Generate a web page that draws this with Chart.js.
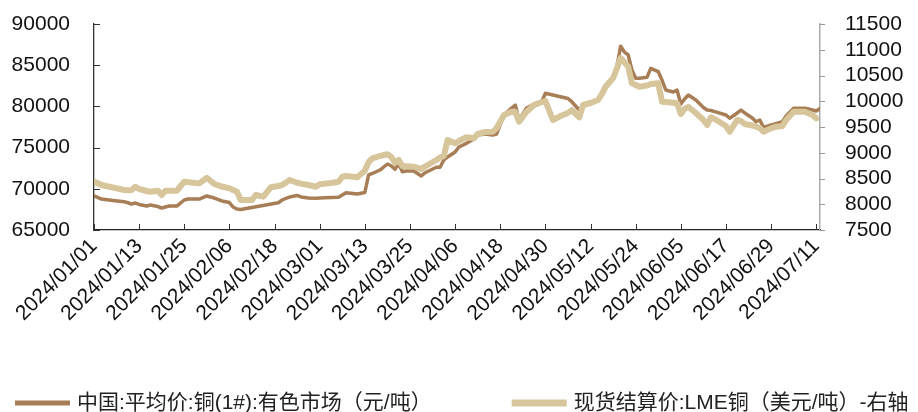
<!DOCTYPE html>
<html><head><meta charset="utf-8">
<script src="https://cdn.jsdelivr.net/npm/chart.js@4.4.1/dist/chart.umd.min.js"></script>
<style>html,body{margin:0;padding:0;background:#fff;overflow:hidden}</style>
</head><body>
<canvas id="c" width="918" height="412" style="width:918px;height:412px;display:block"></canvas>
<script>
const dates = [
'2024-01-01','2024-01-03','2024-01-06','2024-01-09','2024-01-10','2024-01-11','2024-01-12','2024-01-13','2024-01-15','2024-01-16','2024-01-18','2024-01-19','2024-01-20','2024-01-21','2024-01-23','2024-01-25','2024-01-26','2024-01-28','2024-01-29','2024-01-31',
'2024-02-02','2024-02-04','2024-02-06','2024-02-07','2024-02-08','2024-02-09','2024-02-12','2024-02-13','2024-02-15','2024-02-17','2024-02-19','2024-02-20','2024-02-21','2024-02-22','2024-02-24','2024-02-25','2024-02-27','2024-02-29',
'2024-03-01','2024-03-04','2024-03-06','2024-03-07','2024-03-08','2024-03-11','2024-03-13','2024-03-14','2024-03-15','2024-03-17','2024-03-19','2024-03-20','2024-03-21','2024-03-22','2024-03-23','2024-03-24','2024-03-26','2024-03-28','2024-03-29',
'2024-04-01','2024-04-02','2024-04-03','2024-04-04','2024-04-06','2024-04-07','2024-04-09','2024-04-11','2024-04-12','2024-04-14','2024-04-16','2024-04-17','2024-04-19','2024-04-21','2024-04-22','2024-04-23','2024-04-25','2024-04-27','2024-04-29','2024-04-30',
'2024-05-02','2024-05-04','2024-05-06','2024-05-07','2024-05-09','2024-05-10','2024-05-12','2024-05-14','2024-05-15','2024-05-16','2024-05-18','2024-05-19','2024-05-20','2024-05-21','2024-05-22','2024-05-23','2024-05-24','2024-05-25','2024-05-27','2024-05-28','2024-05-30','2024-05-31',
'2024-06-01','2024-06-03','2024-06-04','2024-06-05','2024-06-06','2024-06-07','2024-06-09','2024-06-11','2024-06-12','2024-06-13','2024-06-14','2024-06-17','2024-06-18','2024-06-20','2024-06-21','2024-06-22','2024-06-24','2024-06-25','2024-06-26','2024-06-27','2024-06-29','2024-06-30',
'2024-07-02','2024-07-03','2024-07-05','2024-07-06','2024-07-08','2024-07-10','2024-07-11','2024-07-12'
];
const chinaCopper = [
69130,68760,68580,68430,68310,68150,68270,68100,67910,68030,67850,67670,67790,67910,67910,68640,68760,68760,68760,69130,
68880,68520,68330,67790,67550,67490,null,null,null,null,68310,68640,68846,69000,69190,69010,68880,68846,
68880,68940,68970,69250,69530,69370,69550,71680,71860,72280,73010,72800,72370,73010,72080,72160,72160,71550,71950,
72610,72610,73500,73860,74470,75070,75520,76040,76530,76650,76530,76650,78960,79800,80170,78350,79800,80290,80570,81590,
81380,81180,80960,80570,79560,80170,80410,80770,81380,82190,83440,84820,87300,86600,86240,84420,83410,83410,83530,84620,84210,83200,
81990,81740,81990,80290,80900,81380,80770,79870,79560,79500,79360,78960,78560,79200,79560,79200,78600,78140,78350,77460,77740,77860,
78140,78830,79770,79770,79770,79560,79440,79770
];
const lmeCopper = [
8440,8373,8325,8276,8270,8276,8340,8296,8257,8244,8263,8179,8263,8263,8263,8437,8430,8412,8406,8515,
8393,8344,8309,8276,8244,8082,8082,8179,8147,8329,8354,8373,8420,8470,8418,8400,8373,8340,
8387,8412,8437,8534,8548,8523,8650,8820,8892,8937,8970,8923,8806,8859,8742,8740,8729,8684,8733,
8859,8907,8937,9247,9183,9228,9300,9280,9364,9403,9410,9474,9733,9797,9790,9603,9797,9927,9985,10005,
9636,9713,9772,9830,9688,9927,9966,10024,10140,10282,10450,10640,10840,10760,10671,10348,10315,10280,10305,10335,10348,9991,
9985,9972,9960,9752,9850,9894,9772,9636,9539,9688,9655,9519,9409,9636,9616,9558,9529,9506,9480,9409,9474,9500,
9519,9636,9797,9797,9797,9733,9669,null
];
const seriesNames = ['中国:平均价:铜(1#):有色市场（元/吨）', '现货结算价:LME铜（美元/吨）-右轴'];
const leftTicks = [65000, 70000, 75000, 80000, 85000, 90000];
const rightTicks = [7500, 8000, 8500, 9000, 9500, 10000, 10500, 11000, 11500];
const xStart = '2024-01-01', xEnd = '2024-07-12', xStepDays = 12;

const DAY = 86400000;
const t0 = Date.parse(xStart + 'T00:00:00Z');
const dayOf = s => Math.round((Date.parse(s + 'T00:00:00Z') - t0) / DAY);
const fmt = d => { const dt = new Date(t0 + d * DAY); return dt.getUTCFullYear() + '/' + String(dt.getUTCMonth() + 1).padStart(2, '0') + '/' + String(dt.getUTCDate()).padStart(2, '0'); };
const toPts = vals => dates.map((d, i) => ({ x: dayOf(d), y: vals[i] }));
const FONT = "'Liberation Sans', Arial, sans-serif";
const CLEAR = 'rgba(0,0,0,0)';

const axisTicks = {
  id: 'axisTicks',
  afterDatasetsDraw(chart) {
    const ctx = chart.ctx, xs = chart.scales.x, ys = chart.scales.y, yr = chart.scales.y1;
    ctx.save();
    ctx.lineWidth = 1;
    ctx.strokeStyle = '#333';
    ctx.beginPath();
    ys.ticks.forEach(t => { const p = Math.round(ys.getPixelForValue(t.value)) + 0.5; ctx.moveTo(ys.right, p); ctx.lineTo(ys.right + 6, p); });
    xs.ticks.forEach(t => { const p = Math.round(xs.getPixelForValue(t.value)) + 0.5; ctx.moveTo(p, xs.top); ctx.lineTo(p, xs.top - 6); });
    ctx.stroke();
    ctx.strokeStyle = '#999';
    ctx.beginPath();
    yr.ticks.forEach(t => { const p = Math.round(yr.getPixelForValue(t.value)) + 0.5; ctx.moveTo(yr.left, p); ctx.lineTo(yr.left + 5, p); });
    ctx.stroke();
    ctx.restore();
  }
};

const bottomLegend = {
  id: 'bottomLegend',
  afterDraw(chart) {
    const ctx = chart.ctx;
    ctx.save();
    ctx.font = "21px 'Liberation Sans', 'Noto Sans CJK SC', sans-serif";
    ctx.textBaseline = 'middle'; ctx.textAlign = 'left'; ctx.fillStyle = '#222';
    const y = 403; let x = 15;
    chart.data.datasets.forEach((ds, i) => {
      ctx.strokeStyle = ds.borderColor; ctx.lineWidth = i ? 7 : 5; ctx.lineCap = 'butt';
      ctx.beginPath(); ctx.moveTo(x, y); ctx.lineTo(x + 55, y); ctx.stroke();
      x += 62;
      ctx.fillText(ds.label, x, y);
      x += ctx.measureText(ds.label).width + 80;
    });
    ctx.restore();
  }
};

new Chart(document.getElementById('c'), {
  type: 'line',
  data: {
    datasets: [
      { label: seriesNames[0], data: toPts(chinaCopper), yAxisID: 'y', borderColor: '#a77e55', backgroundColor: '#a77e55', borderWidth: 3.5, pointRadius: 0, tension: 0, spanGaps: true, borderJoinStyle: 'round', borderCapStyle: 'round', order: 1 },
      { label: seriesNames[1], data: toPts(lmeCopper), yAxisID: 'y1', borderColor: '#d7c59b', backgroundColor: '#d7c59b', borderWidth: 6, pointRadius: 0, tension: 0, spanGaps: true, borderJoinStyle: 'round', borderCapStyle: 'round', order: 0 }
    ]
  },
  options: {
    responsive: false, animation: false, devicePixelRatio: 1,
    layout: { padding: { left: 0, right: 0, top: 24, bottom: 0 } },
    plugins: { tooltip: { enabled: false }, legend: { display: false } },
    scales: {
      x: {
        type: 'linear', min: dayOf(xStart), max: dayOf(xEnd),
        afterBuildTicks: s => { s.ticks = s.ticks.filter(t => t.value % xStepDays === 0); },
        afterFit: s => { s.height = 182; },
        ticks: { stepSize: xStepDays, includeBounds: false, autoSkip: false, minRotation: 45, maxRotation: 45, padding: 4, color: '#111',
          font: { family: FONT, size: 21 }, callback: v => fmt(v) },
        grid: { display: false, drawOnChartArea: false, drawTicks: false },
        border: { display: true, color: '#222', width: 1.3 }
      },
      y: {
        position: 'left', min: 65000, max: 90000,
        afterBuildTicks: s => { s.ticks = leftTicks.map(v => ({ value: v })); },
        afterFit: s => { s.width = 94; },
        ticks: { autoSkip: false, padding: 0, color: '#111', font: { family: FONT, size: 21 }, callback: v => String(v) },
        grid: { display: true, drawOnChartArea: false, drawTicks: true, tickLength: 24, color: CLEAR },
        border: { display: true, color: '#333', width: 1.3 }
      },
      y1: {
        position: 'right', min: 7500, max: 11500,
        afterBuildTicks: s => { s.ticks = rightTicks.map(v => ({ value: v })); },
        afterFit: s => { s.width = 98; },
        ticks: { autoSkip: false, padding: 0, color: '#111', font: { family: FONT, size: 21 }, callback: v => String(v) },
        grid: { display: true, drawOnChartArea: false, drawTicks: true, tickLength: 25, color: CLEAR },
        border: { display: true, color: '#aaa', width: 1.5 }
      }
    }
  },
  plugins: [axisTicks, bottomLegend]
});
</script>
</body></html>
